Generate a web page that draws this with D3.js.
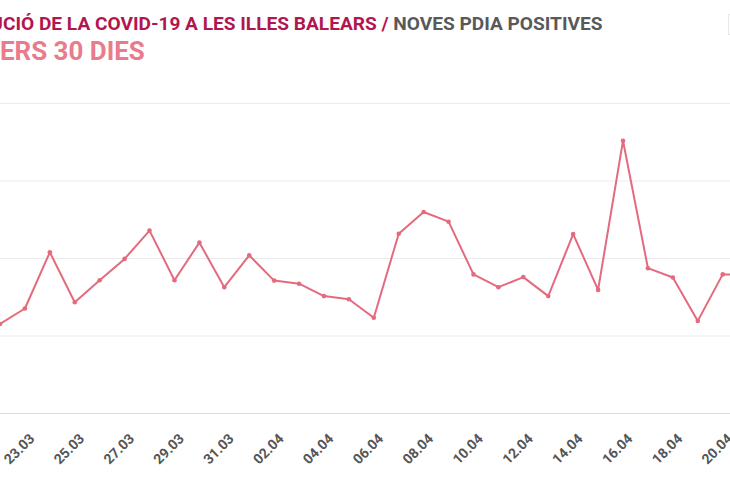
<!DOCTYPE html>
<html>
<head>
<meta charset="utf-8">
<script src="https://cdn.jsdelivr.net/npm/d3@7"></script>
<style>
  html, body { margin: 0; padding: 0; background: #fff; overflow: hidden; }
  svg { display: block; }
</style>
</head>
<body>
<svg id="chart" width="730" height="500"></svg>
<script>
// ---- data ----
const dates = ["22.03","23.03","24.03","25.03","26.03","27.03","28.03","29.03","30.03","31.03",
               "01.04","02.04","03.04","04.04","05.04","06.04","07.04","08.04","09.04","10.04",
               "11.04","12.04","13.04","14.04","15.04","16.04","17.04","18.04","19.04","20.04","21.04"];
const values = [23.1, 27.1, 41.6, 28.7, 34.4, 39.9, 47.2, 34.4, 44.1, 32.6,
                40.8, 34.3, 33.5, 30.3, 29.5, 24.7, 46.4, 52.0, 49.5, 35.9,
                32.6, 35.2, 30.3, 46.3, 31.9, 70.4, 37.5, 35.1, 23.9, 35.9, 35.9];
const xTickLabels = ["23.03","25.03","27.03","29.03","31.03","02.04","04.04","06.04",
                     "08.04","10.04","12.04","14.04","16.04","18.04","20.04"];
const yTicks = [0, 20, 40, 60, 80];
const titleMain = "EVOLUCIÓ DE LA COVID-19 A LES ILLES BALEARS /";
const titleSub = " NOVES PDIA POSITIVES";
const subtitle = "DARRERS 30 DIES";

const parse = s => { const [d, m] = s.split(".").map(Number); return new Date(2020, m - 1, d); };
const data = dates.map((d, i) => ({ date: parse(d), value: values[i] }));

const svg = d3.select("#chart");
const W = 730;

const x = d3.scaleTime()
  .domain([parse("22.03"), parse("20.04")])
  .range([0, 722.7]);
const y = d3.scaleLinear().domain([0, 80]).range([413.5, 103.5]);

// gridlines
svg.append("g").selectAll("line").data(yTicks).join("line")
  .attr("x1", 0).attr("x2", W)
  .attr("y1", d => y(d)).attr("y2", d => y(d))
  .attr("stroke", d => d === 0 ? "#dcdcdc" : "#ebebeb")
  .attr("stroke-width", 1);

// x axis
const xAxis = d3.axisBottom(x)
  .tickValues(xTickLabels.map(parse))
  .tickFormat(d3.timeFormat("%d.%m"))
  .tickSize(0);
const gx = svg.append("g").attr("transform", `translate(0,${y(0)})`).call(xAxis);
gx.select(".domain").remove();
gx.selectAll("text")
  .attr("fill", "#555")
  .style("font-family", "Roboto, 'Liberation Sans', sans-serif")
  .style("font-weight", "700")
  .style("font-size", "14px")
  .attr("text-anchor", "end")
  .attr("dy", null)
  .attr("y", 0)
  .attr("transform", "translate(10,26) rotate(-45)");

// line
const lineColor = "#e46a7e";
svg.append("path").datum(data)
  .attr("fill", "none")
  .attr("stroke", lineColor)
  .attr("stroke-width", 2)
  .attr("stroke-linejoin", "round")
  .attr("d", d3.line().x(d => x(d.date)).y(d => y(d.value)));

svg.append("g").selectAll("circle").data(data).join("circle")
  .attr("cx", d => x(d.date)).attr("cy", d => y(d.value))
  .attr("r", 2.3).attr("fill", lineColor);

// top-right faint box edge
svg.append("rect").attr("x", 728.5).attr("y", 14.5).attr("width", 40).attr("height", 20)
  .attr("fill", "none").attr("stroke", "#e8e8e8");

// titles (the picture is cropped on the left)
function fitTitle(t, prefixLen, visibleStart, visibleWidth) {
  const node = t.node();
  const full = node.getComputedTextLength();
  const pre = node.getSubStringLength(0, prefixLen);
  const s = visibleWidth / (full - pre);
  t.attr("transform", `translate(${visibleStart - pre * s},0) scale(${s},1)`);
}

const t1 = svg.append("text").attr("x", 0).attr("y", 30)
  .style("font-family", "Roboto, 'Liberation Sans', sans-serif")
  .style("font-weight", "700").style("font-size", "18.5px");
t1.append("tspan").attr("fill", "#b2164f").text(titleMain);
t1.append("tspan").attr("fill", "#595959").text(titleSub);
fitTitle(t1, 5, 3, 600);

const t2 = svg.append("text").attr("x", 0).attr("y", 60)
  .style("font-family", "Roboto, 'Liberation Sans', sans-serif")
  .style("font-weight", "700").style("font-size", "25px")
  .attr("fill", "#e97b8c").text(subtitle);
fitTitle(t2, 4, 0, 145);
</script>
</body>
</html>
